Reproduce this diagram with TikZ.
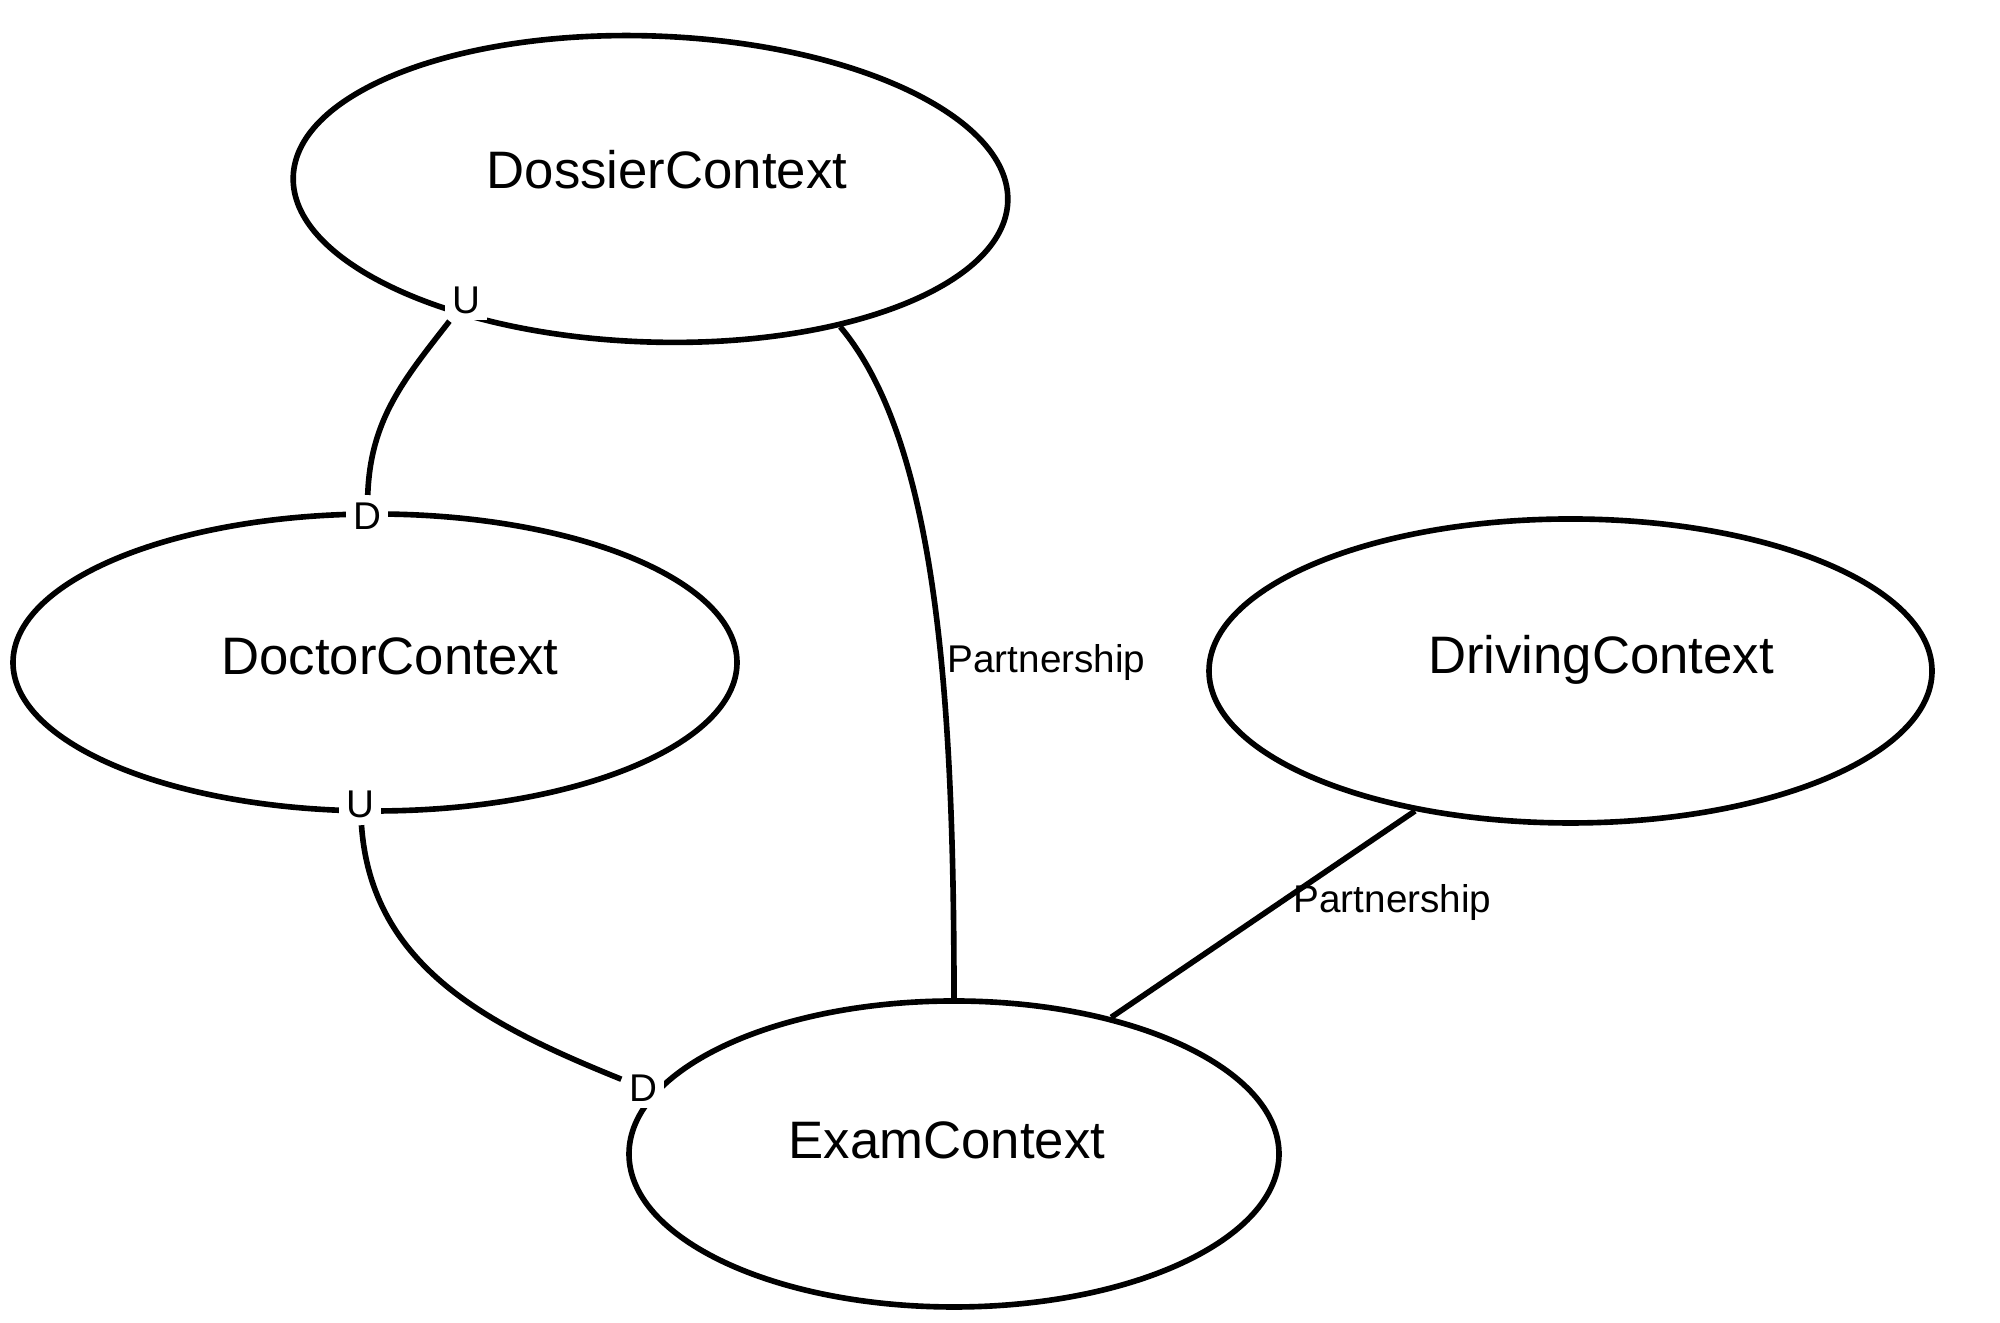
\documentclass[tikz,border=0pt]{standalone}
\usepackage{fontspec}
\setmainfont{Liberation Sans}
\usepackage{tikz}
\usetikzlibrary{shapes.geometric,positioning}
\tikzset{
  ctxbox/.style={
    ellipse, draw=black, line width=1.6pt,
    inner sep=0pt
  },
  ctxname/.style={
    font=\fontsize{15pt}{18pt}\selectfont, inner sep=0pt
  },
  rolemark/.style={
    fill=white, font=\fontsize{11pt}{13pt}\selectfont,
    inner sep=2pt
  },
  rellink/.style={
    line width=1.6pt, draw=black
  },
  rellabel/.style={
    font=\fontsize{11pt}{13pt}\selectfont, inner sep=0pt
  },
}

\begin{document}
\begin{tikzpicture}
\useasboundingbox (0,0) rectangle (20,13.23);

% bounded contexts
\node[ctxbox, minimum width=7.15cm, minimum height=3.06cm, rotate=-2] (dossier) at (6.505,11.34) {};
\node[ctxbox, minimum width=7.24cm, minimum height=2.97cm] (doctor) at (3.75,6.605) {};
\node[ctxbox, minimum width=7.23cm, minimum height=3.04cm] (driving) at (15.705,6.52) {};
\node[ctxbox, minimum width=6.5cm, minimum height=3.06cm] (exam) at (9.54,1.69) {};

\node[ctxname] (dossiertxt) at (6.67,11.53) {DossierContext};
\node[ctxname] (doctortxt) at (3.90,6.67) {DoctorContext};
\node[ctxname] (drivingtxt) at (16.01,6.63) {DrivingContext};
\node[ctxname] (examtxt) at (9.47,1.83) {ExamContext};

% upstream / downstream marks
\node[rolemark] (dossierU) at (4.66,10.23) {U};
\node[rolemark] (doctorD) at (3.67,8.07) {D};
\node[rolemark] (doctorU) at (3.60,5.19) {U};
\node[rolemark] (examD) at (6.43,2.35) {D};

% relationships
\draw[rellink] (dossierU) to[out=-128,in=88] (doctorD);
\draw[rellink] (doctorU) to[out=-86,in=158] (examD);
\draw[rellink] (dossier.-34) .. controls +(-50:1.5) and +(90:3.0) .. (exam.north);
\draw[rellink] (driving.222) -- (exam.41);

\node[rellabel, anchor=west] (part1) at (9.47,6.60) {Partnership};
\node[rellabel, anchor=west] (part2) at (12.93,4.20) {Partnership};

\end{tikzpicture}
\end{document}
